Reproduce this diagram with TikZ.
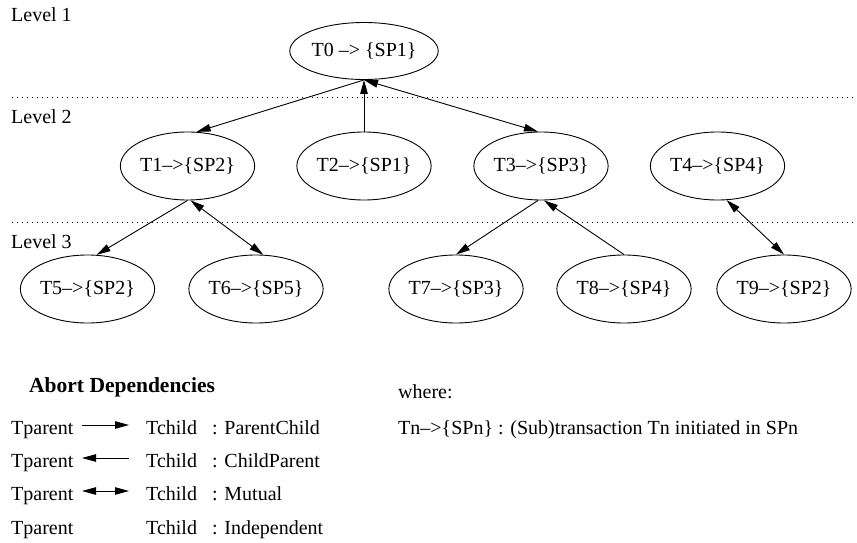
\documentclass[tikz,border=0pt]{standalone}
\usepackage{fontspec}
\setmainfont{Liberation Serif}
\usetikzlibrary{arrows.meta,shapes.geometric}
\begin{document}
\begin{tikzpicture}[x=1pt,y=-1pt,
  every node/.style={font=\fontsize{20}{23}\selectfont},
  tnode/.style={draw, ellipse, line width=0.9pt, minimum width=118pt, minimum height=68pt, inner sep=0pt},
  topnode/.style={tnode, minimum height=57pt},
  lbl/.style={anchor=base west, inner sep=0pt},
  dep/.style={line width=0.9pt},
  fwd/.style={dep, -{Triangle[length=14pt,width=7.5pt]}},
  both/.style={dep, {Triangle[length=14pt,width=7.5pt]}-{Triangle[length=14pt,width=7.5pt]}},
  levelline/.style={line width=0.9pt, dash pattern=on 1.2pt off 3.8pt}
]
\useasboundingbox (0,0) rectangle (857,543);

% level separators
\draw[levelline] (12,97) -- (857,97);
\draw[levelline] (12,222) -- (857,222);

% level labels
\node[lbl] (L1) at (11,22) {Level 1};
\node[lbl] (L2) at (11,123) {Level 2};
\node[lbl] (L3) at (11,248) {Level 3};

% transaction nodes
\node[topnode] (T0) at (364,51) {T0 \textendash> \{SP1\}};
\node[tnode] (T1) at (187.5,166) {T1\textendash>\{SP2\}};
\node[tnode] (T2) at (364,166) {T2\textendash>\{SP1\}};
\node[tnode] (T3) at (541,166) {T3\textendash>\{SP3\}};
\node[tnode] (T4) at (717.5,166) {T4\textendash>\{SP4\}};
\node[tnode] (T5) at (87.5,289) {T5\textendash>\{SP2\}};
\node[tnode] (T6) at (256,289) {T6\textendash>\{SP5\}};
\node[tnode] (T7) at (456,289) {T7\textendash>\{SP3\}};
\node[tnode] (T8) at (624,289) {T8\textendash>\{SP4\}};
\node[tnode] (T9) at (784,289) {T9\textendash>\{SP2\}};

% dependencies
\draw[fwd] (T0.south) -- (T1.75);
\draw[fwd] (T2.north) -- (T0.south);
\draw[both] (T0.south) -- (T3.95);
\draw[fwd] (T1.south) -- (T5.75);
\draw[both] (T1.-85) -- (T6.78);
\draw[fwd] (T3.-95) -- (T7.north);
\draw[fwd] (T8.north) -- (T3.-85);
\draw[both] (T4.-75) -- (T9.north);

% legend
\node[lbl, font=\fontsize{21.5}{25}\selectfont\bfseries] (hdr) at (29,392) {Abort Dependencies};

\node[lbl] (p1) at (11,434) {Tparent};
\node[lbl] (c1) at (146,434) {Tchild};
\node[lbl] (d1) at (212,434) {: ParentChild};
\node[lbl] (p2) at (11,467) {Tparent};
\node[lbl] (c2) at (146,467) {Tchild};
\node[lbl] (d2) at (212,467) {: ChildParent};
\node[lbl] (p3) at (11,500) {Tparent};
\node[lbl] (c3) at (146,500) {Tchild};
\node[lbl] (d3) at (212,500) {: Mutual};
\node[lbl] (p4) at (11,534) {Tparent};
\node[lbl] (c4) at (146,534) {Tchild};
\node[lbl] (d4) at (212,534) {: Independent};

\coordinate (a1s) at (82,425);
\coordinate (a1e) at (129,425);
\coordinate (a2s) at (82,458);
\coordinate (a2e) at (129,458);
\coordinate (a3s) at (82,491);
\coordinate (a3e) at (129,491);
\draw[fwd] (a1s) -- (a1e);
\draw[fwd] (a2e) -- (a2s);
\draw[both] (a3s) -- (a3e);

\node[lbl] (wh) at (398,398) {where:};
\node[lbl] (expl) at (398,434) {Tn\textendash>\{SPn\} : (Sub)transaction Tn initiated in SPn};
\end{tikzpicture}
\end{document}
